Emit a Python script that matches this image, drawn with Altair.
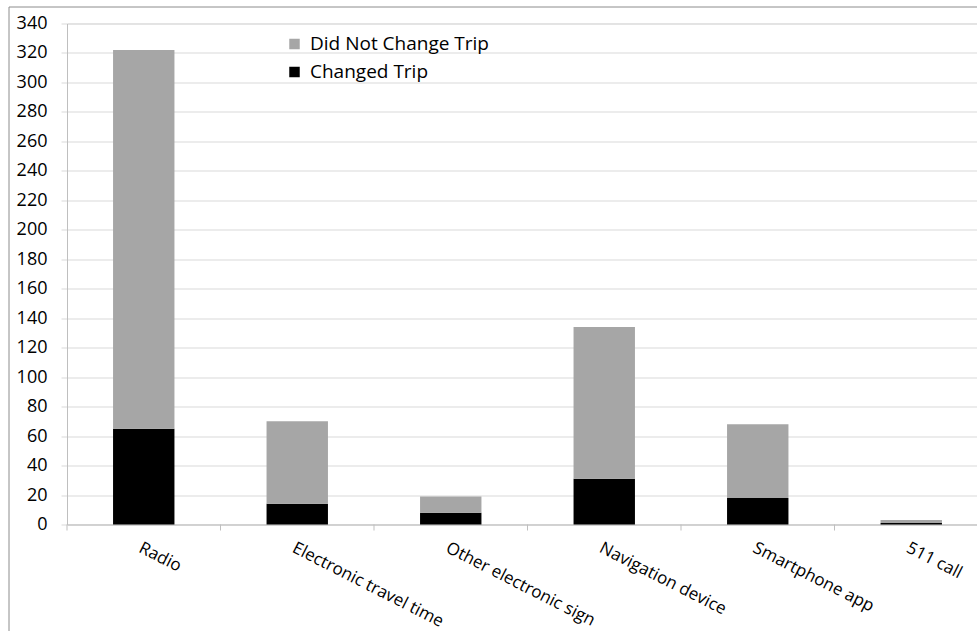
import altair as alt
import pandas as pd

categories = ["Radio", "Electronic travel time", "Other electronic sign",
              "Navigation device", "Smartphone app", "511 call"]
changed = [65, 14, 8, 31, 18, 1]
not_changed = [257, 56, 11, 103, 50, 2]
series = ["Did Not Change Trip", "Changed Trip"]
colors = ["#A6A6A6", "#000000"]
y_ticks = list(range(0, 341, 20))

rows = []
for c, ch, nc in zip(categories, changed, not_changed):
    rows.append({"cat": c, "series": "Changed Trip", "value": ch, "ord": 0})
    rows.append({"cat": c, "series": "Did Not Change Trip", "value": nc, "ord": 1})
df = pd.DataFrame(rows)

W, H = 921, 501
FONT = "Open Sans"

bars = alt.Chart(df).mark_bar().encode(
    x=alt.X("cat:N", sort=categories, title=None,
            scale=alt.Scale(paddingInner=0.6, paddingOuter=0.3),
            axis=alt.Axis(labelAngle=27, labelAlign="left", labelBaseline="top",
                          labelPadding=15, ticks=False, domainColor="#BFBFBF",
                          labelFontSize=17, labelColor="#000000", labelFont=FONT,
                          labelOverlap=False, labelLimit=400)),
    y=alt.Y("value:Q", stack="zero", title=None,
            scale=alt.Scale(domain=[0, 340], nice=False),
            axis=alt.Axis(values=y_ticks, tickSize=6, tickColor="#D9D9D9",
                          gridColor="#D9D9D9", domainColor="#BFBFBF",
                          labelPadding=14, labelFontSize=18, labelFont=FONT,
                          labelColor="#000000")),
    color=alt.Color("series:N", scale=alt.Scale(domain=series, range=colors),
                    legend=alt.Legend(title=None, orient="none", legendX=218, legendY=11,
                                      symbolType="square", symbolSize=110,
                                      symbolStrokeWidth=0, labelFontSize=19,
                                      labelFont=FONT, labelColor="#000000",
                                      labelLimit=400,
                                      rowPadding=8, labelOffset=6, padding=0)),
    order=alt.Order("ord:Q", sort="ascending"),
)

tick_df = pd.DataFrame({"cat": categories})
ticks = alt.Chart(tick_df).mark_rule(color="#BFBFBF").encode(
    x=alt.X("cat:N", sort=categories, bandPosition=0, axis=None,
            scale=alt.Scale(paddingInner=0, paddingOuter=0)),
    y=alt.value(H),
    y2=alt.value(H + 6),
)

frame_df = pd.DataFrame({"a": [0]})
frame_left = alt.Chart(frame_df).mark_rule(color="#8C8C8C").encode(
    x=alt.value(-58), y=alt.value(-16.5), y2=alt.value(H + 120))
frame_top = alt.Chart(frame_df).mark_rule(color="#8C8C8C").encode(
    x=alt.value(-58), x2=alt.value(W + 10), y=alt.value(-16.5))

chart = alt.layer(bars, ticks, frame_left, frame_top).resolve_scale(
    x="independent"
).properties(
    width=W, height=H,
    autosize=alt.AutoSizeParams(type="none"),
    padding={"left": 67, "top": 23.5, "right": -11, "bottom": 106},
).configure_view(strokeWidth=0, stroke="transparent").configure(background="white")

chart.save("out.html", embed_options={"renderer": "svg", "actions": False})
